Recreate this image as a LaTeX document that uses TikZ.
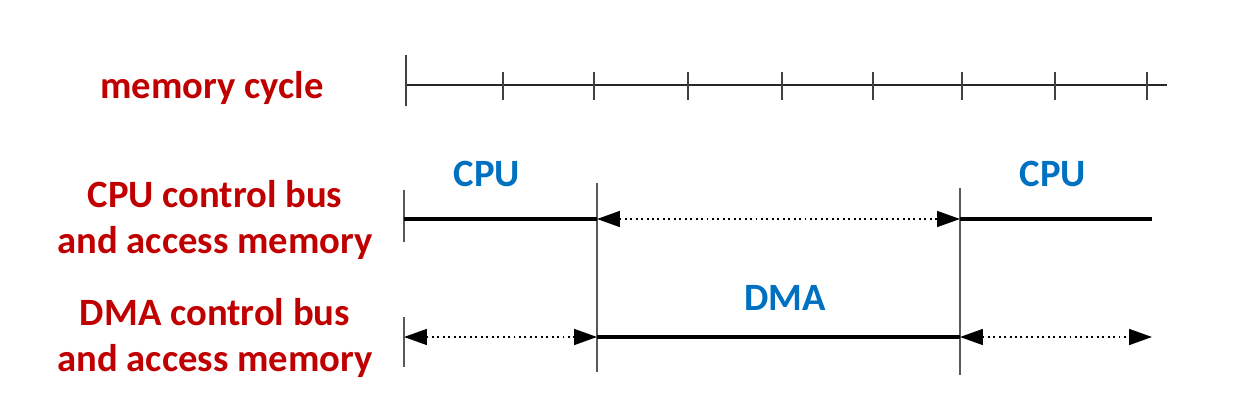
\documentclass[tikz,border=0pt]{standalone}
\usepackage{fontspec}
\setmainfont{Carlito}
\usetikzlibrary{arrows.meta}
\definecolor{lblred}{HTML}{C00000}
\definecolor{lblblue}{HTML}{0070C0}
\begin{document}
\begin{tikzpicture}[x=0.02cm,y=-0.02cm,
  rowlabel/.style={text=lblred,font=\bfseries\fontsize{22}{26}\selectfont,align=center,inner sep=0pt},
  phase/.style={text=lblblue,font=\bfseries\fontsize{22}{26}\selectfont,inner sep=0pt},
  axisline/.style={draw=black!85,line width=0.9pt},
  tickline/.style={draw=black!75,line width=1.3pt},
  guide/.style={draw=black!65,line width=1.1pt},
  busline/.style={draw=black,line width=1.8pt},
  idle/.style={draw=black,line width=1.1pt,dotted,{Triangle[length=13pt,width=9pt]}-{Triangle[length=13pt,width=9pt]}}
]
\useasboundingbox (0,0) rectangle (1247,405);
% labels
\node[rowlabel] (lmem) at (212,88) {memory cycle};
\node[rowlabel] (lcpu) at (215,220) {CPU control bus\\and access memory};
\node[rowlabel] (ldma) at (215,338) {DMA control bus\\and access memory};
\node[phase] (pcpu1) at (487,174) {CPU};
\node[phase] (pcpu2) at (1053,174) {CPU};
\node[phase] (pdma) at (785,298) {DMA};
% memory cycle axis
\coordinate (a0) at (406,85);
\coordinate (a1) at (1167,85);
\draw[axisline] (a0) -- (a1);
\draw[tickline] (406,55) -- (406,106);
\foreach \x in {503,594,688,782,873,962,1055,1147}
  \draw[tickline] (\x,72) -- (\x,100);
% guides
\coordinate (g1t) at (597,183);
\coordinate (g1b) at (597,372);
\coordinate (g2t) at (960,188);
\coordinate (g2b) at (960,375);
\draw[guide] (g1t) -- (g1b);
\draw[guide] (g2t) -- (g2b);
\draw[guide] (404,190) -- (404,242);
\draw[guide] (404,317) -- (404,367);
% CPU row
\coordinate (c0) at (404,219);
\coordinate (c1) at (597,219);
\coordinate (c2) at (960,219);
\coordinate (c3) at (1152,219);
\draw[busline] (c0) -- (c1);
\draw[idle] (c1) -- (c2);
\draw[busline] (c2) -- (c3);
% DMA row
\coordinate (d0) at (404,337);
\coordinate (d1) at (597,337);
\coordinate (d2) at (960,337);
\coordinate (d3) at (1152,337);
\draw[idle] (d0) -- (d1);
\draw[busline] (d1) -- (d2);
\draw[idle] (d2) -- (d3);
\end{tikzpicture}
\end{document}
